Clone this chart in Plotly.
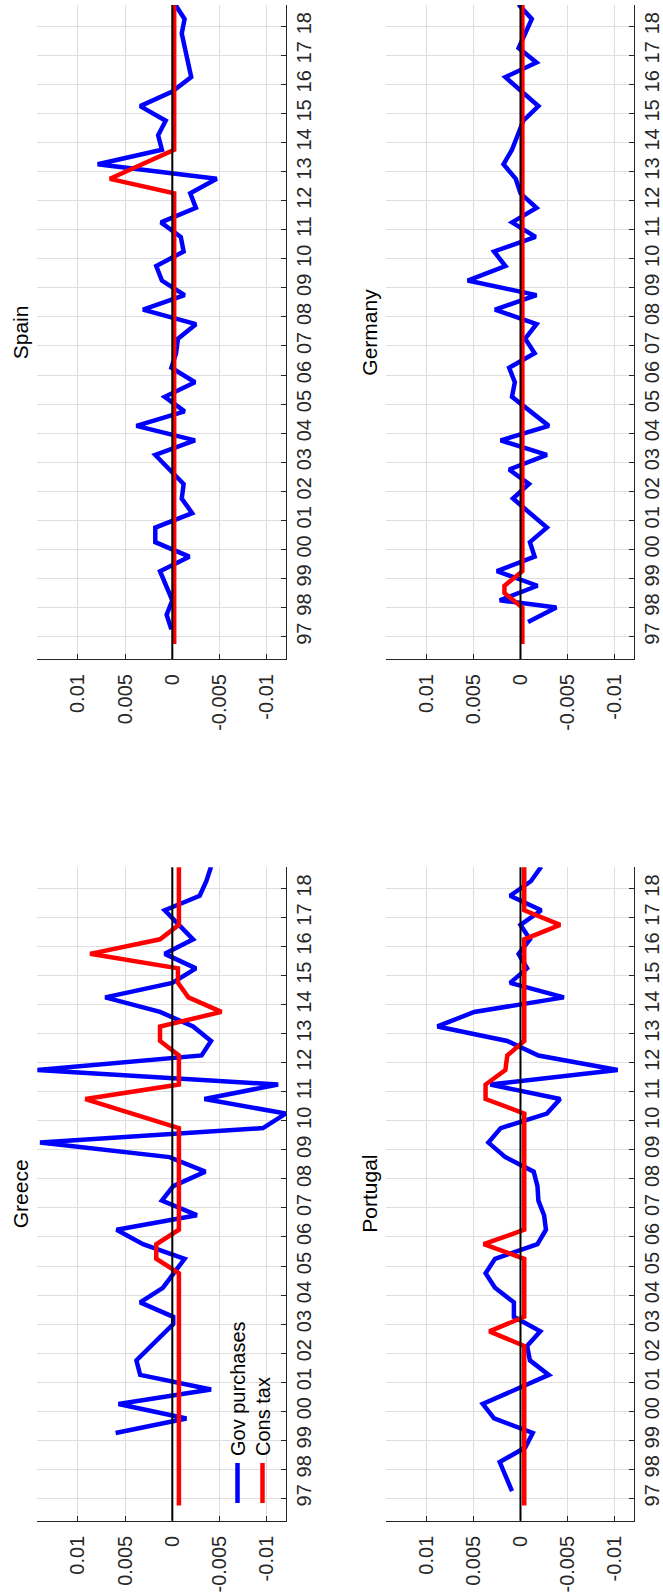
import plotly.graph_objects as go

# ---------------- data (time in years, quarterly positions) ----------------
greece_gov_t = [1999.25, 1999.75, 2000.25, 2000.75, 2001.25, 2001.75, 2003.0, 2003.25, 2003.75, 2004.25,
                2005.25, 2005.75, 2006.25, 2006.75, 2007.25, 2007.75, 2008.25, 2008.75, 2009.25, 2009.75,
                2010.25, 2010.75, 2011.25, 2011.75, 2012.25, 2012.75, 2013.25, 2013.75, 2014.25, 2014.75,
                2015.25, 2015.75, 2016.25, 2017.25, 2017.75, 2018.25, 2018.75]
greece_gov_v = [0.0060, -0.0015, 0.0057, -0.0041, 0.0034, 0.0038, -0.0001, -0.0001, 0.0034, 0.0010,
                -0.0013, 0.0031, 0.0059, -0.0026, 0.0011, -0.0001, -0.0035, 0.0003, 0.0140, -0.0096,
                -0.0120, -0.0034, -0.0112, 0.0143, -0.0031, -0.0041, -0.0022, 0.0013, 0.0071, 0.0000,
                -0.0025, 0.0008, -0.0022, 0.0008, -0.0029, -0.0036, -0.0041]
greece_tax_t = [1996.75, 2004.75, 2005.25, 2005.75, 2006.25, 2009.75, 2010.75, 2011.25, 2012.25, 2012.75,
                2013.25, 2013.75, 2014.25, 2014.75, 2015.25, 2015.75, 2016.25, 2016.75, 2018.75]
greece_tax_v = [-0.0007, -0.0007, 0.0017, 0.0017, -0.0007, -0.0007, 0.0092, -0.0007, -0.0007, 0.0013,
                0.0013, -0.0052, -0.0017, -0.0006, -0.0006, 0.0087, 0.0013, -0.0007, -0.0007]

spain_gov_t = [1997.25, 1997.75, 1998.25, 1998.75, 1999.25, 1999.75, 2000.25, 2000.75, 2001.25, 2001.75,
               2002.25, 2002.75, 2003.25, 2003.75, 2004.25, 2004.75, 2005.25, 2005.75, 2006.25, 2006.75,
               2007.25, 2007.75, 2008.25, 2008.75, 2009.25, 2009.75, 2010.25, 2010.75, 2011.25, 2011.75,
               2012.25, 2012.75, 2013.25, 2013.75, 2014.25, 2014.75, 2015.25, 2015.75, 2016.25, 2017.75,
               2018.25, 2018.75]
spain_gov_v = [0.0001, 0.0006, 0.0000, 0.0006, 0.0013, -0.0018, 0.0018, 0.0018, -0.0021, -0.0010,
               -0.0012, 0.0003, 0.0018, -0.0024, 0.0038, -0.0013, 0.0008, -0.0024, 0.0001, -0.0004,
               -0.0006, -0.0025, 0.0031, -0.0013, 0.0011, 0.0017, -0.0012, -0.0009, 0.0012, -0.0025,
               -0.0019, -0.0047, 0.0079, 0.0011, 0.0015, 0.0007, 0.0034, 0.0000, -0.0020, -0.0010,
               -0.0013, -0.0003]
spain_tax_t = [1996.75, 2012.25, 2012.75, 2013.75, 2018.75]
spain_tax_v = [-0.0002, -0.0002, 0.0066, -0.0002, -0.0002]

portugal_gov_t = [1997.25, 1998.25, 1998.75, 1999.25, 1999.75, 2000.25, 2001.25, 2001.75, 2002.25, 2002.75,
                  2003.25, 2003.75, 2004.25, 2004.75, 2005.25, 2005.75, 2006.25, 2006.75, 2007.25, 2007.75,
                  2008.25, 2008.75, 2009.25, 2009.75, 2010.25, 2010.75, 2011.25, 2011.75, 2012.25, 2012.75,
                  2013.25, 2013.75, 2014.25, 2014.75, 2015.25, 2015.75, 2016.25, 2016.75, 2017.25, 2017.75,
                  2018.25, 2018.75]
portugal_gov_v = [0.0009, 0.0022, -0.0005, -0.0013, 0.0028, 0.0040, -0.0030, -0.0010, -0.0007, -0.0021,
                  0.0007, 0.0007, 0.0027, 0.0037, 0.0027, -0.0018, -0.0027, -0.0025, -0.0019, -0.0018,
                  -0.0014, 0.0016, 0.0034, 0.0021, -0.0028, -0.0042, 0.0032, -0.0103, -0.0019, 0.0014,
                  0.0088, 0.0049, -0.0046, 0.0011, -0.0007, 0.0002, -0.0010, 0.0000, -0.0022, 0.0011,
                  -0.0011, -0.0022]
portugal_tax_t = [1996.75, 2002.25, 2002.75, 2003.25, 2005.25, 2005.75, 2006.25, 2010.25, 2010.75, 2011.25,
                  2011.75, 2012.25, 2012.75, 2016.25, 2016.75, 2017.25, 2018.75]
portugal_tax_v = [-0.0004, -0.0004, 0.0033, -0.0004, -0.0004, 0.0039, -0.0004, -0.0004, 0.0037, 0.0037,
                  0.0016, 0.0014, -0.0004, -0.0004, -0.0042, -0.0004, -0.0004]

germany_gov_t = [1997.5, 1998.0, 1998.25, 1998.75, 1999.25, 1999.75, 2000.25, 2000.75, 2001.75, 2002.25,
                 2002.75, 2003.25, 2003.75, 2004.25, 2005.25, 2005.75, 2006.25, 2006.75, 2007.25, 2007.75,
                 2008.25, 2008.75, 2009.25, 2009.75, 2010.25, 2010.75, 2011.25, 2011.75, 2012.25, 2012.75,
                 2013.25, 2013.75, 2014.25, 2014.75, 2015.25, 2016.25, 2016.75, 2017.25, 2018.25, 2018.75]
germany_gov_v = [-0.0008, -0.0038, 0.0022, -0.0018, 0.0025, -0.0015, -0.0010, -0.0028, 0.0008, -0.0009,
                 0.0012, -0.0028, 0.0021, -0.0030, 0.0009, 0.0006, 0.0012, -0.0015, -0.0005, -0.0017,
                 0.0027, -0.0017, 0.0056, 0.0016, 0.0028, -0.0016, 0.0009, -0.0017, 0.0000, 0.0005,
                 0.0018, 0.0009, 0.0003, -0.0003, -0.0019, 0.0016, -0.0017, 0.0002, -0.0012, 0.0002]
germany_tax_t = [1996.75, 1998.0, 1998.5, 1998.75, 1999.25, 2018.75]
germany_tax_v = [-0.0002, -0.0002, 0.0017, 0.0017, -0.0002, -0.0002]

panel_titles = ["Spain", "Germany", "Greece", "Portugal"]
series_names = ["Gov purchases", "Cons tax"]
year_ticks = list(range(1997, 2019))
year_labels = ["%02d" % (y % 100) for y in year_ticks]
value_ticks = [0.01, 0.005, 0, -0.005, -0.01]
value_labels = ["0.01", "0.005", "0", "-0.005", "-0.01"]
value_range = [0.014286, -0.012032]   # reversed: positive on the left
time_range = [1996.23, 2018.73]

# ---------------- figure ----------------
W, H = 663, 1596
col_dom = [[37.3 / W, 286.0 / W], [385.7 / W, 634.0 / W]]
row_dom = [[1 - 659.0 / H, 1 - 5.0 / H], [1 - 1520.7 / H, 1 - 867.3 / H]]

panels = [
    (spain_gov_t, spain_gov_v, spain_tax_t, spain_tax_v, 0, 0),
    (germany_gov_t, germany_gov_v, germany_tax_t, germany_tax_v, 0, 1),
    (greece_gov_t, greece_gov_v, greece_tax_t, greece_tax_v, 1, 0),
    (portugal_gov_t, portugal_gov_v, portugal_tax_t, portugal_tax_v, 1, 1),
]

FONT = "Liberation Sans, Arial, Helvetica, sans-serif"
TICKCOL = "#262626"
BLUE = "#0000FF"
RED = "#FF0000"
LW = 4.5

fig = go.Figure()
layout = dict(
    width=W, height=H, margin=dict(l=0, r=0, t=0, b=0),
    paper_bgcolor="white", plot_bgcolor="white", showlegend=False,
    font=dict(family=FONT, size=20, color=TICKCOL),
)
annotations = []
shapes = []

for i, (gt, gv, tt, tv, r, c) in enumerate(panels):
    n = i + 1
    xa = "x" if n == 1 else "x%d" % n
    ya = "y" if n == 1 else "y%d" % n
    fig.add_trace(go.Scatter(x=gv, y=gt, mode="lines", line=dict(color=BLUE, width=LW),
                             name=series_names[0], xaxis=xa, yaxis=ya))
    fig.add_trace(go.Scatter(x=tv, y=tt, mode="lines", line=dict(color=RED, width=LW),
                             name=series_names[1], xaxis=xa, yaxis=ya))
    layout["xaxis" if n == 1 else "xaxis%d" % n] = dict(
        domain=col_dom[c], anchor=ya, range=value_range,
        tickvals=value_ticks, ticktext=value_labels, tickangle=-90,
        showgrid=True, gridcolor="#dedede", gridwidth=1, zeroline=False,
        showline=True, linecolor=TICKCOL, linewidth=1.2,
        ticks="inside", ticklen=5, tickcolor=TICKCOL,
        tickfont=dict(family=FONT, size=20, color=TICKCOL), ticklabelstandoff=6,
    )
    layout["yaxis" if n == 1 else "yaxis%d" % n] = dict(
        domain=row_dom[r], anchor=xa, side="right", range=time_range,
        tickvals=year_ticks, ticktext=year_labels, tickangle=-90,
        showgrid=True, gridcolor="#dedede", gridwidth=1, zeroline=False,
        showline=True, linecolor=TICKCOL, linewidth=1.2,
        ticks="inside", ticklen=5, tickcolor=TICKCOL,
        tickfont=dict(family=FONT, size=20, color=TICKCOL),
    )
    # zero reference line on top
    shapes.append(dict(type="line", xref=xa, yref=ya + " domain", x0=0, x1=0, y0=0, y1=1,
                       line=dict(color="black", width=2), layer="above"))
    # panel title (rotated)
    annotations.append(dict(
        text=panel_titles[i], textangle=-90, showarrow=False,
        xref="paper", yref="paper",
        x=(col_dom[c][0] * W - 17) / W, y=(row_dom[r][0] + row_dom[r][1]) / 2,
        xanchor="center", yanchor="middle",
        font=dict(family=FONT, size=21, color="black"),
    ))

# legend in the Greece panel (rotated)
leg_x = [237.5 / W, 262.5 / W]
leg_cols = [BLUE, RED]
for k in range(2):
    shapes.append(dict(type="line", xref="paper", yref="paper",
                       x0=leg_x[k], x1=leg_x[k], y0=1 - 1503 / H, y1=1 - 1463 / H,
                       line=dict(color=leg_cols[k], width=LW)))
    annotations.append(dict(
        text=series_names[k], textangle=-90, showarrow=False,
        xref="paper", yref="paper", x=leg_x[k], y=1 - 1458 / H,
        xanchor="center", yanchor="bottom",
        font=dict(family=FONT, size=20, color="black"),
    ))

layout["annotations"] = annotations
layout["shapes"] = shapes
fig.update_layout(**layout)
fig.write_html("out.html")
